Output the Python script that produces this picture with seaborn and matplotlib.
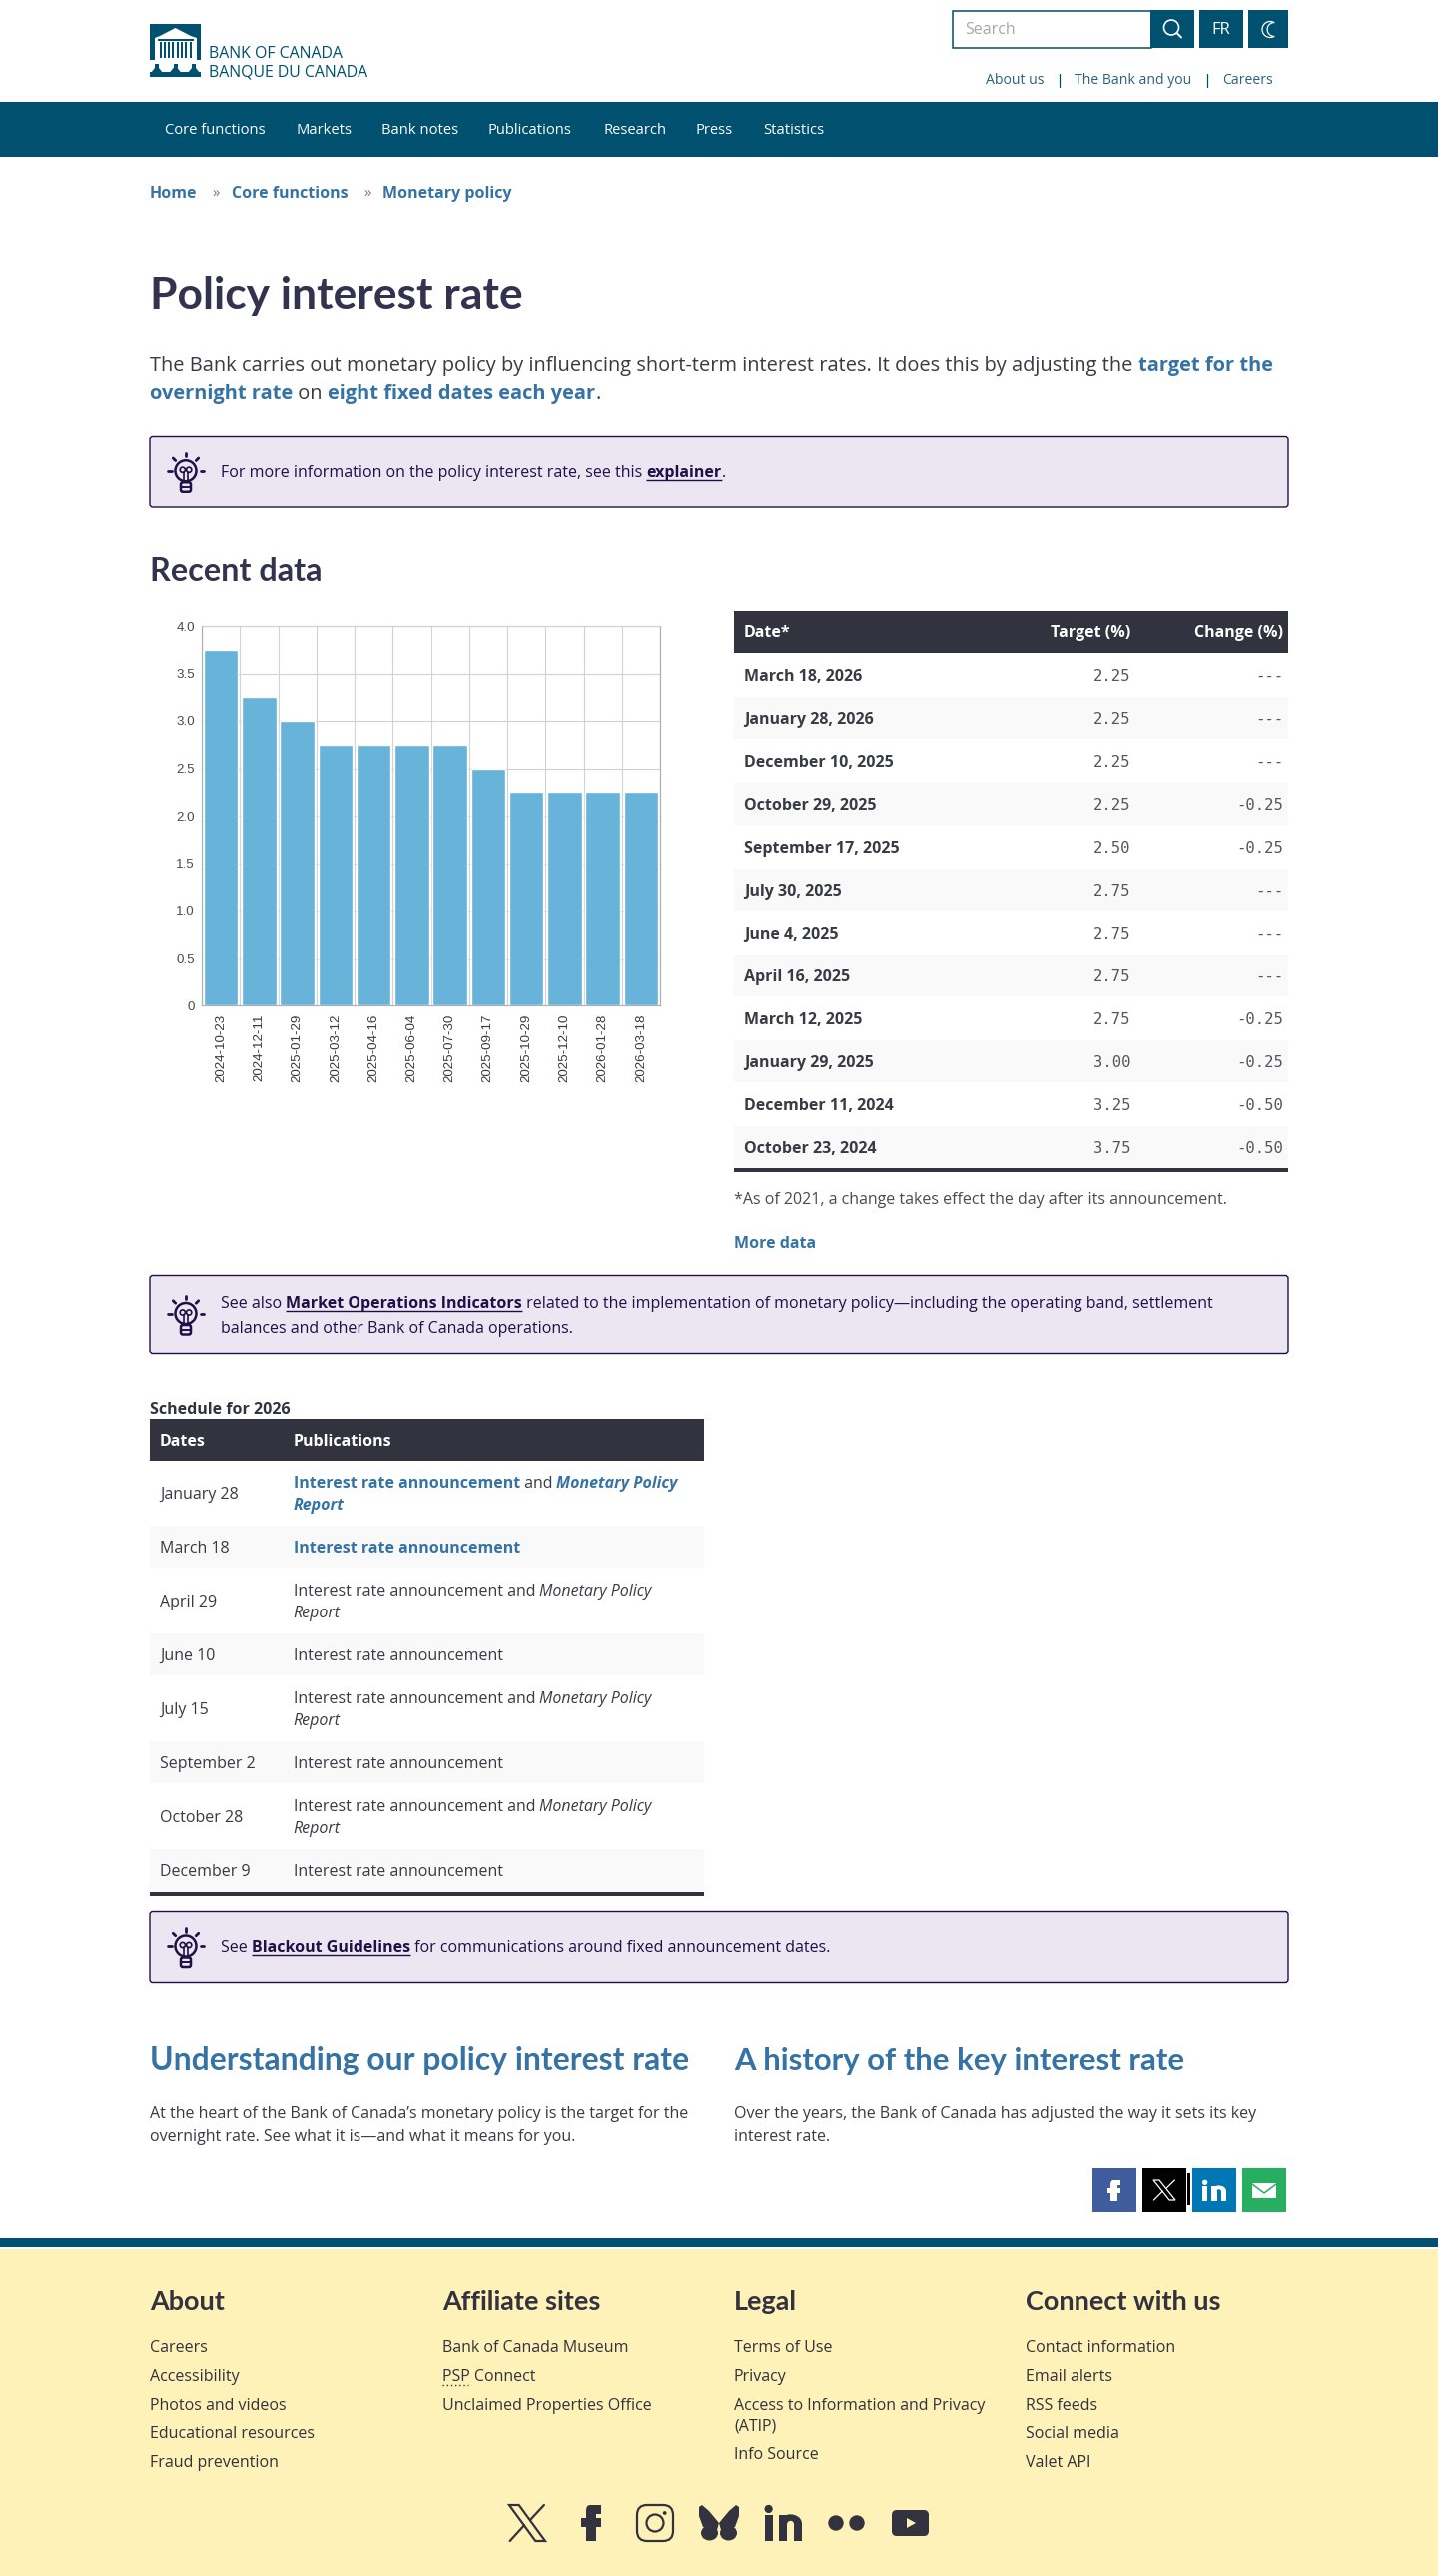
import numpy as np
import pandas as pd
import seaborn as sns
import matplotlib.pyplot as plt
from matplotlib.patches import Rectangle, FancyBboxPatch, Circle, Ellipse, Polygon

BODY = "Open Sans"
HEAD = "Lato"
MONO = "DejaVu Sans Mono"

NAVY = "#00506f"
BLUE = "#3673a5"
DARK = "#33323f"
TEXT = "#3a3a44"
PURPLE = "#1f1047"
CREAM = "#fff2b8"

# chart data
rate_dates = ["2024-10-23", "2024-12-11", "2025-01-29", "2025-03-12", "2025-04-16", "2025-06-04",
              "2025-07-30", "2025-09-17", "2025-10-29", "2025-12-10", "2026-01-28", "2026-03-18"]
rate_values = [3.75, 3.25, 3.00, 2.75, 2.75, 2.75, 2.75, 2.50, 2.25, 2.25, 2.25, 2.25]
y_ticks = [0, 0.5, 1.0, 1.5, 2.0, 2.5, 3.0, 3.5, 4.0]
y_tick_labels = ["0", "0.5", "1.0", "1.5", "2.0", "2.5", "3.0", "3.5", "4.0"]

# recent data table
table_dates = ["March 18, 2026", "January 28, 2026", "December 10, 2025", "October 29, 2025",
               "September 17, 2025", "July 30, 2025", "June 4, 2025", "April 16, 2025",
               "March 12, 2025", "January 29, 2025", "December 11, 2024", "October 23, 2024"]
table_targets = ["2.25", "2.25", "2.25", "2.25", "2.50", "2.75", "2.75", "2.75", "2.75", "3.00", "3.25", "3.75"]
table_changes = ["---", "---", "---", "-0.25", "-0.25", "---", "---", "---", "-0.25", "-0.25", "-0.50", "-0.50"]

# schedule
sched_dates = ["January 28", "March 18", "April 29", "June 10", "July 15", "September 2", "October 28", "December 9"]
sched_has_report = [True, False, True, False, True, False, True, False]
sched_linked = [True, True, False, False, False, False, False, False]

nav_items = ["Core functions", "Markets", "Bank notes", "Publications", "Research", "Press", "Statistics"]
nav_x = [165, 296, 382, 489, 604, 696, 764]

footer_heads = ["About", "Affiliate sites", "Legal", "Connect with us"]
footer_x = [150, 443, 735, 1027]
footer_links = [
    ["Careers", "Accessibility", "Photos and videos", "Educational resources", "Fraud prevention"],
    ["Bank of Canada Museum", "PSP Connect", "Unclaimed Properties Office"],
    ["Terms of Use", "Privacy", "Access to Information and Privacy", "(ATIP)", "Info Source"],
    ["Contact information", "Email alerts", "RSS feeds", "Social media", "Valet API"],
]
footer_y = [
    [2350, 2379, 2408, 2436, 2465],
    [2350, 2379, 2408],
    [2350, 2379, 2408, 2429, 2457],
    [2350, 2379, 2408, 2436, 2465],
]

sns.set_theme(style="white")
plt.rcParams["font.family"] = [BODY, "DejaVu Sans"]

fig = plt.figure(figsize=(14.4, 25.8), dpi=100, facecolor="white")
bg = fig.add_axes([0, 0, 1, 1])
bg.set_xlim(0, 1440)
bg.set_ylim(2580, 0)
bg.axis("off")
rend = fig.canvas.get_renderer()


def put(x, y, s, size=16, color=TEXT, weight="normal", style="normal", family=BODY, ha="left"):
    # y is the middle of the lowercase letters, size is in css pixels
    return bg.text(x, y + 0.36 * size, s, fontsize=size * 0.72, color=color, fontweight=weight,
                   fontstyle=style, family=family, ha=ha, va="baseline")


def text_w(s, **kw):
    # bar on the end so trailing spaces count
    a = put(0, 0, s + "|", **kw)
    b = put(0, 0, "|", **kw)
    w = a.get_window_extent(rend).width - b.get_window_extent(rend).width
    a.remove()
    b.remove()
    return w


def runs(x, y, parts, size=16):
    for part in parts:
        s, opts = part
        opts = dict(opts)
        under = opts.pop("under", False)
        put(x, y, s, size=size, **opts)
        w = text_w(s, size=size, **opts)
        if under:
            bg.plot([x, x + w], [y + 0.55 * size] * 2, color=opts.get("color", TEXT), lw=1, solid_capstyle="butt")
        x += w


def box(x0, y0, x1, y1, color, z=2):
    bg.add_patch(Rectangle((x0, y0), x1 - x0, y1 - y0, fc=color, ec="none", zorder=z))


def bulb(cx, cy):
    c = PURPLE
    hy = cy - 1
    bg.add_patch(Circle((cx, hy), 10.5, fc="none", ec=c, lw=1.8, zorder=3))
    bg.add_patch(FancyBboxPatch((cx - 5, cy + 10.5), 10, 9.5, boxstyle="round,pad=0,rounding_size=2",
                                fc="none", ec=c, lw=1.8, zorder=3))
    bg.plot([cx - 5, cx + 5], [cy + 15] * 2, color=c, lw=1.4, zorder=3)
    for sx in [-1, 1]:
        bg.add_patch(Circle((cx + sx * 3.2, hy - 1), 2.6, fc="none", ec=c, lw=1.2, zorder=3))
        bg.plot([cx + sx * 2, cx + sx * 2], [hy + 1, cy + 10], color=c, lw=1.2, zorder=3)
    for a in [-90, -45, -135, 0, 180]:
        r = np.radians(a)
        bg.plot([cx + 14.5 * np.cos(r), cx + 18 * np.cos(r)], [hy + 14.5 * np.sin(r), hy + 18 * np.sin(r)],
                color=c, lw=2, zorder=3)


def callout(y0, y1):
    bg.add_patch(FancyBboxPatch((150, y0), 1140, y1 - y0, boxstyle="round,pad=0,rounding_size=3",
                                fc="#ece6f2", ec=PURPLE, lw=1.0, zorder=1))
    bulb(186, (y0 + y1) / 2)


def x_icon(x0, y0, x1, y1, color, lw):
    # the X logo: one hollow stroke, one thin stroke broken in the middle
    w, h = x1 - x0, y1 - y0
    bg.add_patch(Polygon([[x0, y0], [x0 + 0.27 * w, y0], [x1, y1], [x1 - 0.27 * w, y1]], fc="none", ec=color, lw=lw, zorder=4))
    bg.plot([x1 - 0.03 * w, x0 + 0.58 * w], [y0, y0 + 0.42 * h], color=color, lw=lw, zorder=4)
    bg.plot([x0 + 0.42 * w, x0 + 0.02 * w], [y0 + 0.56 * h, y1], color=color, lw=lw, zorder=4)


def f_icon(x0, y0, x1, y1, color):
    w, h = x1 - x0, y1 - y0
    box(x0 + 0.26 * w, y0 + 0.12 * h, x0 + 0.74 * w, y1, color, 4)
    box(x0, y0 + 0.37 * h, x1, y0 + 0.6 * h, color, 4)
    bg.add_patch(FancyBboxPatch((x0 + 0.26 * w, y0), 0.74 * w, 0.24 * h, boxstyle="round,pad=0,rounding_size=%.1f" % (0.12 * h),
                                fc=color, ec="none", zorder=4))
    box(x0 + 0.6 * w, y0, x1, y0 + 0.24 * h, color, 4)


def in_icon(x0, y0, x1, y1, color, back):
    w, h = x1 - x0, y1 - y0
    bg.add_patch(Circle((x0 + 0.11 * w, y0 + 0.11 * h), 0.11 * w, fc=color, ec="none", zorder=4))
    box(x0, y0 + 0.28 * h, x0 + 0.22 * w, y1, color, 4)
    box(x0 + 0.39 * w, y0 + 0.28 * h, x0 + 0.61 * w, y1, color, 4)
    mx = x0 + 0.695 * w
    bg.add_patch(Ellipse((mx, y0 + 0.52 * h), 0.61 * w, 0.52 * h, fc=color, ec="none", zorder=4))
    bg.add_patch(Ellipse((mx, y0 + 0.54 * h), 0.185 * w, 0.2 * h, fc=back, ec="none", zorder=5))
    box(x0 + 0.605 * w, y0 + 0.54 * h, x0 + 0.785 * w, y1, back, 5)
    box(x0 + 0.39 * w, y0 + 0.5 * h, x0 + 0.605 * w, y1, color, 5)
    box(x0 + 0.785 * w, y0 + 0.5 * h, x1, y1, color, 5)


# header
box(150, 24, 201, 60, NAVY)
bg.add_patch(Polygon([[155, 60], [155, 38], [160, 36], [175.5, 28], [191, 36], [197, 38], [197, 60]], fc="white", ec="none", zorder=3))
box(158, 38.5, 194, 40.5, NAVY, 3)
for cx in np.arange(159.5, 192, 4.3):
    box(cx, 42, cx + 2, 58, NAVY, 3)
box(150, 72, 201, 77, NAVY)
for cx in [157, 175.5, 194]:
    box(cx - 2, 64, cx + 2, 73, NAVY)
    bg.add_patch(Polygon([[cx - 6, 73], [cx - 2, 68], [cx + 2, 68], [cx + 6, 73]], fc=NAVY, ec="none", zorder=2))
put(209, 52.2, "BANK OF CANADA", size=15.9, color=NAVY)
put(209, 70.4, "BANQUE DU CANADA", size=15.9, color=NAVY)

bg.add_patch(Rectangle((953.5, 10.5), 199, 37, fc="white", ec=NAVY, lw=1.1))
put(966, 28, "Search", size=16, color="#a8a8a8")
box(1152, 10, 1196, 48, NAVY)
bg.add_patch(Circle((1173, 27.5), 7.5, fc="none", ec="white", lw=1.2, zorder=3))
bg.plot([1178.5, 1183], [33, 37.5], color="white", lw=1.4, zorder=3)
box(1201, 10, 1245, 48, NAVY)
put(1223, 28.5, "FR", size=16.5, color="white", ha="center")
box(1250, 10, 1290, 48, NAVY)
# crescent, outer arc then inner arc back
t_out = np.radians(np.linspace(60, 300, 40))
t_in = np.radians(np.linspace(270, 90, 40))
moon_x = np.r_[1272 + 8 * np.cos(t_out), 1276 + 6.9 * np.cos(t_in)]
moon_y = np.r_[29.5 + 8 * np.sin(t_out), 29.5 + 6.9 * np.sin(t_in)]
bg.add_patch(Polygon(np.c_[moon_x, moon_y], fc="none", ec="white", lw=0.9, zorder=3))

put(987, 79, "About us", size=14, color="#2c607a")
put(1076, 79, "The Bank and you", size=14, color="#2c607a")
put(1224, 79, "Careers", size=14, color="#2c607a")
for lx in [1061, 1209]:
    bg.plot([lx, lx], [74, 87], color=NAVY, lw=0.9)

box(0, 102, 1440, 157, NAVY)
for name, nx in zip(nav_items, nav_x):
    put(nx, 129, name, size=14.7, color="white")

# breadcrumb
put(150, 192, "Home", size=16, color=BLUE, weight="bold")
put(212, 192, "»", size=15, color="#777777")
put(232, 192, "Core functions", size=16, color=BLUE, weight="bold")
put(364, 192, "»", size=15, color="#777777")
put(383, 192, "Monetary policy", size=16, color=BLUE, weight="bold")

put(150, 293, "Policy interest rate", size=44.4, color="#33334f", weight="bold", family=HEAD)

runs(150, 365, [("The Bank carries out monetary policy by influencing short-term interest rates. It does this by adjusting the ", {}),
                ("target for the", {"color": BLUE, "weight": "bold"})], size=19.95)
runs(150, 393, [("overnight rate", {"color": BLUE, "weight": "bold"}), (" on ", {}),
                ("eight fixed dates each year", {"color": BLUE, "weight": "bold"}), (".", {})], size=19.95)

callout(437.5, 508)
runs(221, 472, [("For more information on the policy interest rate, see this ", {"color": PURPLE}),
                ("explainer", {"color": PURPLE, "weight": "bold", "under": True}), (".", {"color": PURPLE})], size=16)

put(150, 570, "Recent data", size=32.4, color="#33334f", weight="bold", family=HEAD)

# bar chart, 202..661 x 627..1007 px on the page
ax = fig.add_axes([202 / 1440, 1 - 1007 / 2580, 459 / 1440, 380 / 2580], facecolor="none")
df = pd.DataFrame({"date": rate_dates, "rate": rate_values})
sns.barplot(data=df, x="date", y="rate", color="#67b3da", saturation=1, width=0.9, ax=ax, zorder=3)
ax.set_xlim(-0.5, len(rate_dates) - 0.5)
ax.set_ylim(0, 4)
ax.set_xlabel("")
ax.set_ylabel("")
ax.set_yticks(y_ticks)
ax.set_yticklabels(y_tick_labels, fontsize=9.6, color="#4a4a4a", family="Liberation Sans")
ax.set_xticks(range(len(rate_dates)))
ax.set_xticklabels(rate_dates, rotation=90, fontsize=9.6, color="#3a3a3a", family="Liberation Sans")
ax.set_xticks(np.arange(len(rate_dates) + 1) - 0.5, minor=True)
ax.tick_params(axis="x", which="major", length=0, pad=6)
ax.tick_params(axis="x", which="minor", length=0)
ax.tick_params(axis="y", length=0, pad=5)
ax.grid(True, axis="y", which="major", color="#d2d2d2", lw=0.8)
ax.grid(True, axis="x", which="minor", color="#d2d2d2", lw=0.8)
ax.grid(False, axis="x", which="major")
ax.set_axisbelow(True)
for side, sp in ax.spines.items():
    sp.set_color("#b0b0b0")
    sp.set_linewidth(0.9)
ax.spines["top"].set_color("#d2d2d2")

# recent data table
box(735, 612, 1290, 654, DARK)
put(745, 632, "Date*", size=16, color="white", weight="bold")
put(1132.5, 632, "Target (%)", size=16, color="white", weight="bold", ha="right")
put(1285, 632, "Change (%)", size=16, color="white", weight="bold", ha="right")
for i, d in enumerate(table_dates):
    top = 654 + 43 * i
    if i % 2 == 1:
        box(735, top + 0.5, 1290, top + 42.5, "#f9f9f9", 1)
    mid = top + 22
    put(745, mid, d, size=16, color=TEXT, weight="bold")
    put(1132.5, mid, table_targets[i], size=15.6, color="#55555f", family=MONO, ha="right")
    put(1285, mid, table_changes[i], size=15.6, color="#55555f", family=MONO, ha="right")
box(735, 1170, 1290, 1174, DARK)
put(735, 1200, "*As of 2021, a change takes effect the day after its announcement.", size=16, color="#4a4a52")
put(735, 1244, "More data", size=16, color=BLUE, weight="bold")

callout(1277.5, 1355.5)
runs(221, 1304, [("See also ", {"color": PURPLE}),
                 ("Market Operations Indicators", {"color": PURPLE, "weight": "bold", "under": True}),
                 (" related to the implementation of monetary policy—including the operating band, settlement", {"color": PURPLE})],
     size=16)
put(221, 1329, "balances and other Bank of Canada operations.", size=16, color=PURPLE)

# schedule table
put(150, 1410, "Schedule for 2026", size=16, color=DARK, weight="bold")
box(150, 1421, 704.5, 1462.5, DARK)
put(160, 1442, "Dates", size=16, color="white", weight="bold")
put(293.5, 1442, "Publications", size=16, color="white", weight="bold")
top = 1462.5
for i, d in enumerate(sched_dates):
    h = 65 if sched_has_report[i] else 43
    if i % 2 == 1:
        box(150, top + 0.5, 704.5, top + h - 0.5, "#f9f9f9", 1)
    mid = top + h / 2
    put(160, mid, d, size=16, color=TEXT)
    if sched_linked[i]:
        a = {"color": BLUE, "weight": "bold"}
        c = {"color": BLUE, "weight": "bold", "style": "italic"}
    else:
        a = {"color": TEXT}
        c = {"color": TEXT, "style": "italic"}
    if sched_has_report[i]:
        runs(293.5, mid - 11, [("Interest rate announcement", a), (" and ", {"color": TEXT}), ("Monetary Policy", c)], size=16)
        put(293.5, mid + 11, "Report", size=16, **c)
    else:
        put(293.5, mid, "Interest rate announcement", size=16, **a)
    top += h
box(150, 1895, 704.5, 1899, DARK)

callout(1914.5, 1985.5)
runs(221, 1949, [("See ", {"color": PURPLE}),
                 ("Blackout Guidelines", {"color": PURPLE, "weight": "bold", "under": True}),
                 (" for communications around fixed announcement dates.", {"color": PURPLE})], size=16)

# bottom articles
put(150, 2062, "Understanding our policy interest rate", size=31.9, color=BLUE, weight="bold", family=HEAD)
put(735, 2062, "A history of the key interest rate", size=31.2, color=BLUE, weight="bold", family=HEAD)
put(150, 2115.5, "At the heart of the Bank of Canada’s monetary policy is the target for the", size=16)
put(150, 2138.5, "overnight rate. See what it is—and what it means for you.", size=16)
put(735, 2115.5, "Over the years, the Bank of Canada has adjusted the way it sets its key", size=16)
put(735, 2138.5, "interest rate.", size=16)

# share buttons
box(1094, 2171, 1138, 2215, "#3f5d9c")
f_icon(1109, 2183, 1122, 2204, "white")
box(1144, 2171, 1188, 2215, "black")
x_icon(1155, 2183, 1177, 2203, "white", 0.9)
box(1189, 2176, 1191.7, 2208, "black")
box(1194, 2171, 1238, 2215, "#0077b5")
in_icon(1204, 2183, 1228, 2204, "white", "#0077b5")
box(1244, 2171, 1288, 2215, "#27ae60")
box(1254, 2186, 1278, 2201, "white", 3)
bg.plot([1254, 1266, 1278], [2187, 2196, 2187], color="#27ae60", lw=1.1, zorder=4)

# footer
box(0, 2241, 1440, 2250, NAVY)
box(0, 2251.5, 1440, 2580, CREAM)
for name, fx, links, ys in zip(footer_heads, footer_x, footer_links, footer_y):
    put(fx, 2304, name, size=27, color=DARK, weight="bold", family=HEAD)
    for s, fy in zip(links, ys):
        put(fx, fy, s, size=16, color=DARK)
bg.plot([443, 469], [2388.5, 2388.5], color=DARK, lw=1, ls=(0, (1, 2)), zorder=3)

# footer social icons, all hand drawn
ic = DARK
x_icon(510, 2509, 546, 2545, ic, 1.6)
f_icon(582, 2509, 602, 2545, ic)
bg.add_patch(FancyBboxPatch((638, 2509), 36, 36, boxstyle="round,pad=0,rounding_size=10", fc="none", ec=ic, lw=1.6, zorder=3))
bg.add_patch(Circle((656, 2527), 8.5, fc="none", ec=ic, lw=1.6, zorder=3))
bg.add_patch(Circle((665.7, 2517), 1.9, fc=ic, ec="none", zorder=3))
for sx in [-1, 1]:
    bg.add_patch(Polygon([[720, 2527], [720 + sx * 10, 2515], [720 + sx * 17, 2509], [720 + sx * 20, 2511],
                          [720 + sx * 20, 2520], [720 + sx * 16, 2531], [720 + sx * 2, 2534]], fc=ic, ec="none", zorder=3))
    bg.add_patch(Ellipse((720 + sx * 9.5, 2537), 17, 15, fc=ic, ec="none", zorder=3))
in_icon(765.5, 2509, 803, 2545, ic, CREAM)
bg.add_patch(Circle((837, 2527), 7.7, fc=ic, ec="none", zorder=3))
bg.add_patch(Circle((858, 2527), 7.7, fc=ic, ec="none", zorder=3))
bg.add_patch(FancyBboxPatch((893, 2514), 37, 26, boxstyle="round,pad=0,rounding_size=5", fc=ic, ec="none", zorder=3))
bg.add_patch(Polygon([[908, 2522], [908, 2532], [917, 2527]], fc=CREAM, ec="none", zorder=4))

fig.savefig("out.png", dpi=100)
